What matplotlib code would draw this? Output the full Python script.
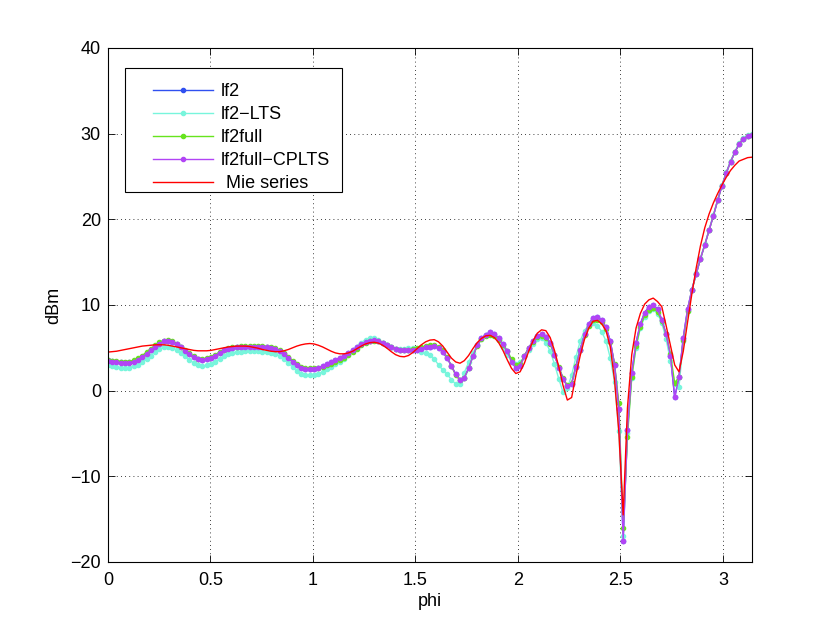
import numpy as np
from matplotlib import pyplot as plt
from matplotlib.patches import Rectangle

#angle grid, 151 samples from 0 to pi
phi = np.linspace(0, np.pi, 151)

#lf2full-CPLTS (purple)
lf2full_cplts = [3.5, 3.4, 3.3, 3.25, 3.2, 3.25, 3.4, 3.6, 3.9, 4.3,
                 4.7, 5.1, 5.5, 5.75, 5.8, 5.65, 5.4, 5.05, 4.65, 4.25,
                 3.9, 3.65, 3.6, 3.7, 3.85, 4.1, 4.4, 4.7, 4.9, 5.0,
                 5.05, 5.1, 5.15, 5.15, 5.15, 5.1, 5.1, 5.05, 5.0, 4.85,
                 4.6, 4.3, 3.85, 3.4, 3.0, 2.7, 2.55, 2.5, 2.55, 2.7,
                 2.85, 3.1, 3.35, 3.6, 3.85, 4.1, 4.4, 4.7, 5.05, 5.4,
                 5.7, 5.85, 5.9, 5.8, 5.6, 5.35, 5.1, 4.9, 4.75, 4.7,
                 4.7, 4.75, 4.8, 4.9, 5.05, 5.15, 5.2, 5.0, 4.5, 3.8,
                 2.9, 1.9, 1.3, 1.5, 2.6, 4.0, 5.3, 6.1, 6.55, 6.8,
                 6.6, 6.1, 5.4, 4.6, 3.4, 2.65, 2.9, 4.0, 5.0, 5.8,
                 6.4, 6.6, 6.3, 5.6, 4.2, 2.7, 1.4, 0.5, 0.8, 2.8,
                 4.8, 6.6, 7.8, 8.5, 8.6, 8.2, 7.4, 5.8, 3.0, -2.1,
                 -17.5, -4.6, 2.1, 5.6, 7.8, 9.1, 9.8, 10.0, 9.5, 8.3,
                 6.6, 4.1, -0.8, 1.55, 6.2, 9.5, 11.8, 13.6, 15.4, 17.0,
                 18.7, 20.4, 22.2, 23.9, 25.4, 26.7, 27.8, 28.8, 29.4, 29.7,
                 29.8]

#lf2 (blue) sits under the purple curve
lf2 = [3.55, 3.45, 3.35, 3.3, 3.25, 3.3, 3.45, 3.65, 3.95, 4.3,
       4.7, 5.1, 5.5, 5.75, 5.8, 5.65, 5.4, 5.05, 4.65, 4.25,
       3.9, 3.65, 3.6, 3.7, 3.85, 4.1, 4.4, 4.7, 4.9, 5.0,
       5.05, 5.1, 5.15, 5.15, 5.15, 5.1, 5.1, 5.05, 5.0, 4.85,
       4.6, 4.3, 3.85, 3.4, 3.0, 2.7, 2.55, 2.5, 2.55, 2.7,
       2.85, 3.1, 3.35, 3.6, 3.85, 4.1, 4.4, 4.7, 5.05, 5.4,
       5.7, 5.85, 5.9, 5.8, 5.6, 5.35, 5.1, 4.9, 4.75, 4.7,
       4.7, 4.75, 4.8, 4.9, 5.05, 5.15, 5.2, 5.0, 4.5, 3.8,
       2.9, 1.9, 1.3, 1.5, 2.6, 4.0, 5.3, 6.1, 6.55, 6.8,
       6.6, 6.1, 5.4, 4.6, 3.4, 2.65, 2.9, 4.0, 5.0, 5.8,
       6.4, 6.6, 6.3, 5.6, 4.2, 2.7, 1.4, 0.5, 0.8, 2.8,
       4.8, 6.6, 7.8, 8.5, 8.6, 8.2, 7.4, 5.8, 3.0, -2.1,
       -17.5, -4.6, 2.1, 5.6, 7.8, 9.1, 9.8, 10.0, 9.5, 8.3,
       6.6, 4.1, -0.8, 1.55, 6.2, 9.5, 11.8, 13.6, 15.4, 17.0,
       18.7, 20.4, 22.2, 23.9, 25.4, 26.7, 27.8, 28.8, 29.4, 29.7,
       29.8]

#lf2full (green)
lf2full = [3.6, 3.5, 3.45, 3.4, 3.35, 3.4, 3.55, 3.8, 4.1, 4.5,
           4.9, 5.3, 5.65, 5.85, 5.9, 5.75, 5.5, 5.15, 4.75, 4.35,
           4.0, 3.75, 3.7, 3.8, 3.95, 4.2, 4.5, 4.8, 5.0, 5.1,
           5.15, 5.2, 5.25, 5.25, 5.25, 5.2, 5.2, 5.15, 5.1, 4.95,
           4.7, 4.4, 3.95, 3.5, 3.1, 2.8, 2.65, 2.6, 2.6, 2.65,
           2.75, 2.95, 3.15, 3.4, 3.6, 3.85, 4.15, 4.5, 4.9, 5.3,
           5.6, 5.8, 5.85, 5.75, 5.55, 5.3, 5.1, 4.9, 4.8, 4.75,
           4.8, 4.85, 4.95, 5.05, 5.2, 5.3, 5.3, 5.15, 4.7, 3.9,
           2.9, 1.8, 1.2, 1.5, 2.6, 4.0, 5.2, 6.0, 6.4, 6.55,
           6.4, 5.95, 5.35, 4.6, 3.7, 3.0, 3.1, 4.1, 5.0, 5.7,
           6.25, 6.4, 6.15, 5.5, 4.2, 2.8, 1.5, 0.6, 0.9, 2.9,
           4.8, 6.5, 7.6, 8.2, 8.3, 8.0, 7.2, 5.7, 3.1, -1.5,
           -16.0, -5.4, 1.6, 5.2, 7.4, 8.8, 9.4, 9.6, 9.2, 8.1,
           6.6, 4.3, 0.9, 1.6, 5.9, 9.3, 11.7, 13.6, 15.4, 17.0,
           18.7, 20.4, 22.2, 23.9, 25.4, 26.7, 27.8, 28.8, 29.4, 29.7,
           29.8]

#lf2-LTS (cyan)
lf2_lts = [3.0, 2.9, 2.8, 2.7, 2.65, 2.7, 2.85, 3.05, 3.35, 3.7,
           4.1, 4.5, 4.85, 5.05, 5.1, 5.0, 4.75, 4.4, 4.0, 3.6,
           3.2, 2.95, 2.9, 2.95, 3.1, 3.4, 3.7, 4.0, 4.25, 4.4,
           4.5, 4.55, 4.6, 4.6, 4.6, 4.6, 4.55, 4.5, 4.45, 4.3,
           4.05, 3.7, 3.25, 2.75, 2.3, 2.0, 1.85, 1.8, 1.85, 2.0,
           2.2, 2.5, 2.8, 3.1, 3.4, 3.75, 4.15, 4.6, 5.1, 5.6,
           5.95, 6.15, 6.1, 5.9, 5.6, 5.3, 5.05, 4.9, 4.85, 4.9,
           4.95, 5.0, 4.85, 4.55, 4.4, 4.2, 3.7, 3.0, 2.4, 1.9,
           1.3, 0.75, 0.8, 2.1, 3.3, 4.4, 5.3, 6.0, 6.45, 6.6,
           6.45, 5.9, 5.1, 4.2, 3.5, 3.1, 3.3, 4.0, 4.8, 5.5,
           6.0, 6.1, 5.6, 4.6, 3.1, 1.4, -0.2, 0.3, 1.8, 3.9,
           5.8, 7.0, 7.7, 7.9, 7.6, 6.9, 5.8, 3.8, 1.0, -4.7,
           -17.0, -5.0, 1.5, 5.0, 7.3, 8.6, 9.3, 9.5, 9.0, 7.9,
           6.0, 3.5, 0.8, 0.4, 5.8, 9.3, 11.8, 13.7, 15.5, 17.1,
           18.8, 20.5, 22.3, 24.0, 25.5, 26.8, 27.9, 28.9, 29.5, 29.8,
           29.9]

#Mie series (red reference)
mie = [4.5, 4.55, 4.6, 4.7, 4.8, 4.9, 5.0, 5.1, 5.2, 5.25,
       5.3, 5.35, 5.35, 5.35, 5.3, 5.2, 5.1, 5.0, 4.9, 4.8,
       4.7, 4.65, 4.65, 4.65, 4.7, 4.8, 4.9, 5.0, 5.1, 5.15,
       5.2, 5.2, 5.2, 5.15, 5.05, 4.95, 4.8, 4.7, 4.6, 4.55,
       4.55, 4.65, 4.8, 5.0, 5.2, 5.35, 5.45, 5.5, 5.45, 5.3,
       5.1, 4.85, 4.6, 4.4, 4.3, 4.3, 4.4, 4.6, 4.9, 5.2,
       5.45, 5.6, 5.65, 5.55, 5.3, 4.95, 4.55, 4.2, 4.0, 3.95,
       4.1, 4.45, 4.9, 5.35, 5.7, 5.9, 5.95, 5.7, 5.2, 4.5,
       3.8, 3.35, 3.2, 3.5, 4.1, 4.9, 5.6, 6.1, 6.4, 6.45,
       6.2, 5.6, 4.7, 3.6, 2.6, 2.0, 2.2, 3.2, 4.6, 5.8,
       6.7, 7.1, 7.0, 6.2, 4.7, 2.8, 0.6, -1.1, -0.8, 1.8,
       4.1, 6.0, 7.3, 8.1, 8.2, 7.8, 7.0, 5.1, 1.2, -4.9,
       -14.5, -2.0, 4.2, 7.3, 9.0, 10.1, 10.6, 10.8, 10.4, 9.8,
       7.6, 5.3, 3.0, 2.2, 4.6, 8.0, 11.3, 14.3, 16.9, 19.0,
       20.6, 21.9, 23.0, 24.0, 24.9, 25.7, 26.3, 26.8, 27.0, 27.2,
       27.25]

xticks = [0, 0.5, 1, 1.5, 2, 2.5, 3]
yticks = [-20, -10, 0, 10, 20, 30, 40]

plt.rcParams['font.family'] = ['Liberation Sans', 'DejaVu Sans']
plt.rcParams['font.size'] = 13

fig = plt.figure(figsize=(8.3, 6.32), dpi=100)
ax = fig.add_axes([0.13, 0.1108, 0.776, 0.8133])

ax.plot(phi, lf2, color='#3050f0', lw=1, marker='.', ms=6, label='lf2')
ax.plot(phi, lf2_lts, color='#78f5dc', lw=1, marker='.', ms=6, label='lf2\u2212LTS')
ax.plot(phi, lf2full, color='#66e41e', lw=1, marker='.', ms=6, label='lf2full')
ax.plot(phi, lf2full_cplts, color='#b244f5', lw=1, marker='.', ms=6, label='lf2full\u2212CPLTS')
ax.plot(phi, mie, color='red', lw=1, label=' Mie series')

ax.set_xlim(0, np.pi)
ax.set_ylim(-20, 40)
ax.set_xticks(xticks)
ax.set_xticklabels(['0', '0.5', '1', '1.5', '2', '2.5', '3'])
ax.set_yticks(yticks)
ax.set_yticklabels(['\u221220', '\u221210', '0', '10', '20', '30', '40'])
ax.tick_params(direction='in', top=True, right=True, length=5, width=0.6)
ax.tick_params(axis='x', pad=7)
ax.tick_params(axis='y', pad=5)
ax.grid(True, color='black', linestyle=(0, (1, 4)), linewidth=0.6)
for s in ax.spines.values():
    s.set_linewidth(0.8)

ax.set_xlabel('phi', labelpad=3)
ax.set_ylabel('dBm', labelpad=6)

#legend box drawn by hand so the handles can sit indented like matlab
box = Rectangle((0.0264, 0.7198), 0.337, 0.2412, transform=ax.transAxes,
                facecolor='white', edgecolor='black', lw=0.8, zorder=4)
ax.add_patch(box)
leg = ax.legend(loc='upper left', bbox_to_anchor=(0.0699, 0.931), numpoints=1,
                handlelength=3.3, handletextpad=0.45, labelspacing=0.33,
                borderpad=0, borderaxespad=0, frameon=False)
leg.set_zorder(5)

plt.savefig('out.png', dpi=100)
